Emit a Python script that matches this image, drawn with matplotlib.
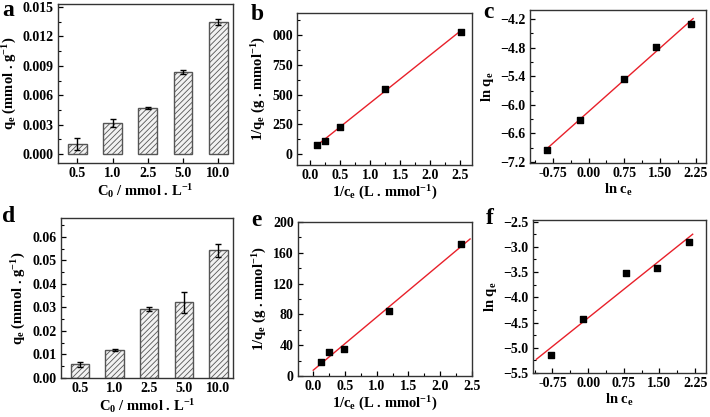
import matplotlib.pyplot as plt
import numpy as np
from matplotlib.ticker import AutoMinorLocator

plt.rcParams['font.family'] = ['Liberation Serif', 'DejaVu Serif']
plt.rcParams['font.weight'] = 'bold'
plt.rcParams['hatch.linewidth'] = 0.6
plt.rcParams['hatch.color'] = '#8a8a8a'
plt.rcParams['mathtext.fontset'] = 'custom'
plt.rcParams['mathtext.rm'] = 'Liberation Serif:bold'
plt.rcParams['mathtext.bf'] = 'Liberation Serif:bold'
plt.rcParams['mathtext.it'] = 'Liberation Serif:bold'
plt.rcParams['mathtext.default'] = 'bf'

# bar data
conc_labels = ['0.5', '1.0', '2.5', '5.0', '10.0']
qe_a = [0.0010, 0.0032, 0.0047, 0.0084, 0.0135]
err_a = [0.0006, 0.0004, 0.0001, 0.0002, 0.0003]
qe_d = [0.0058, 0.0119, 0.0293, 0.0322, 0.0542]
err_d = [0.0010, 0.0003, 0.0008, 0.0045, 0.0028]

# Langmuir plots
inv_ce_b = [0.12, 0.24, 0.50, 1.24, 2.51]
inv_qe_b = [75, 115, 230, 550, 1025]
inv_ce_e = [0.13, 0.25, 0.48, 1.20, 2.33]
inv_qe_e = [18.6, 31.5, 34.5, 84, 172]

# Freundlich plots
ln_ce_c = [-0.88, -0.18, 0.74, 1.42, 2.16]
ln_qe_c = [-6.95, -6.32, -5.45, -4.79, -4.31]
ln_ce_f = [-0.78, -0.11, 0.80, 1.44, 2.13]
ln_qe_f = [-5.15, -4.43, -3.52, -3.42, -2.90]

W, H = 710, 417
fig = plt.figure(figsize=(W / 100, H / 100), dpi=100)

TICK = 10
LAB = 10.5


def add_ax(l, r, t, b):
    return fig.add_axes([l / W, 1 - b / H, (r - l) / W, (b - t) / H])


def style(ax, xminor=True):
    for s in ax.spines.values():
        s.set_linewidth(1.0)
        s.set_color('#333333')
    ax.tick_params(direction='in', length=3.5, width=0.9, labelsize=TICK, pad=3)
    ax.tick_params(which='minor', direction='in', length=2, width=0.8)
    ax.yaxis.set_minor_locator(AutoMinorLocator(2))
    if xminor:
        ax.xaxis.set_minor_locator(AutoMinorLocator(2))
    for lab in ax.get_xticklabels() + ax.get_yticklabels():
        lab.set_fontweight('bold')


def bars(ax, vals, errs):
    x = np.arange(len(vals))
    ax.bar(x, vals, width=0.53, color='#f2f2f2', edgecolor='#555555',
           linewidth=1.0, hatch='//////', zorder=2)
    ax.errorbar(x, vals, yerr=errs, fmt='none', ecolor='black',
                elinewidth=1.0, capsize=2.0, capthick=1.0, zorder=3)
    ax.set_xticks(x)
    ax.set_xticklabels(conc_labels)
    ax.set_xlim(-0.55, 4.42)
    ax.tick_params(axis='x', length=0)
    ax.set_xlabel('C$_0$ / mmol . L$^{-1}$', fontsize=LAB, fontweight='bold', labelpad=1)
    ax.set_ylabel('q$_e$ (mmol . g$^{-1}$)', fontsize=LAB, fontweight='bold', labelpad=3)


def scatter_fit(ax, x, y, xr):
    ax.scatter(x, y, marker='s', s=22, color='black', zorder=3)
    k, b0 = np.polyfit(x, y, 1)
    xs = np.array(xr)
    ax.plot(xs, k * xs + b0, color='#e8202a', lw=1.0, zorder=2)


# a
ax = add_ax(58, 233, 4, 163)
bars(ax, qe_a, err_a)
ax.set_ylim(-0.0009, 0.0153)
ax.set_yticks([0, 0.003, 0.006, 0.009, 0.012, 0.015])
ax.set_yticklabels(['0.000', '0.003', '0.006', '0.009', '0.012', '0.015'])
style(ax, xminor=False)

# b
ax = add_ax(297, 472, 13, 165)
scatter_fit(ax, inv_ce_b, inv_qe_b, [0.12, 2.52])
ax.set_xlim(-0.22, 2.7)
ax.set_ylim(-90, 1185)
ax.set_xticks([0, 0.5, 1.0, 1.5, 2.0, 2.5])
ax.set_yticks([0, 250, 500, 750, 1000])
ax.set_yticklabels(['0', '250', '500', '750', '000'])
ax.set_xlabel('1/c$_e$ (L . mmol$^{-1}$)', fontsize=LAB, fontweight='bold', labelpad=1)
ax.set_ylabel('1/q$_e$ (g . mmol$^{-1}$)', fontsize=LAB, fontweight='bold', labelpad=3)
style(ax)

# c
ax = add_ax(530, 706, 10, 163)
scatter_fit(ax, ln_ce_c, ln_qe_c, [-0.92, 2.2])
ax.set_xlim(-1.23, 2.47)
ax.set_ylim(-7.22, -4.01)
ax.set_xticks([-0.75, 0, 0.75, 1.5, 2.25])
ax.set_xticklabels(['-0.75', '0.00', '0.75', '1.50', '2.25'])
ax.set_yticks([-7.2, -6.6, -6.0, -5.4, -4.8, -4.2])
ax.set_xlabel('ln c$_e$', fontsize=LAB, fontweight='bold', labelpad=1)
ax.set_ylabel('ln q$_e$', fontsize=LAB, fontweight='bold', labelpad=3)
style(ax)

# d
ax = add_ax(61, 233, 218, 378)
bars(ax, qe_d, err_d)
ax.set_ylim(0, 0.068)
ax.set_yticks([0, 0.01, 0.02, 0.03, 0.04, 0.05, 0.06])
ax.set_yticklabels(['0.00', '0.01', '0.02', '0.03', '0.04', '0.05', '0.06'])
style(ax, xminor=False)

# e
ax = add_ax(298, 472, 222, 376)
scatter_fit(ax, inv_ce_e, inv_qe_e, [0.0, 2.47])
ax.set_xlim(-0.24, 2.5)
ax.set_ylim(0, 200)
ax.set_xticks([0, 0.5, 1.0, 1.5, 2.0, 2.5])
ax.set_yticks([0, 40, 80, 120, 160, 200])
ax.set_xlabel('1/c$_e$ (L . mmol$^{-1}$)', fontsize=LAB, fontweight='bold', labelpad=1)
ax.set_ylabel('1/q$_e$ (g . mmol$^{-1}$)', fontsize=LAB, fontweight='bold', labelpad=3)
style(ax)

# f
ax = add_ax(533, 706, 220, 373)
scatter_fit(ax, ln_ce_f, ln_qe_f, [-1.09, 2.2])
ax.set_xlim(-1.16, 2.48)
ax.set_ylim(-5.5, -2.47)
ax.set_xticks([-0.75, 0, 0.75, 1.5, 2.25])
ax.set_xticklabels(['-0.75', '0.00', '0.75', '1.50', '2.25'])
ax.set_yticks([-5.5, -5.0, -4.5, -4.0, -3.5, -3.0, -2.5])
ax.set_xlabel('ln c$_e$', fontsize=LAB, fontweight='bold', labelpad=1)
ax.set_ylabel('ln q$_e$', fontsize=LAB, fontweight='bold', labelpad=3)
style(ax)

# panel letters
for letter, x, y in [('a', 2, 0), ('b', 251, 4), ('c', 483, 2),
                     ('d', 2, 206), ('e', 251, 210), ('f', 486, 208)]:
    fig.text(x / W, 1 - y / H, letter, fontsize=17, fontweight='bold', va='top')

fig.savefig('out.png', dpi=100)
